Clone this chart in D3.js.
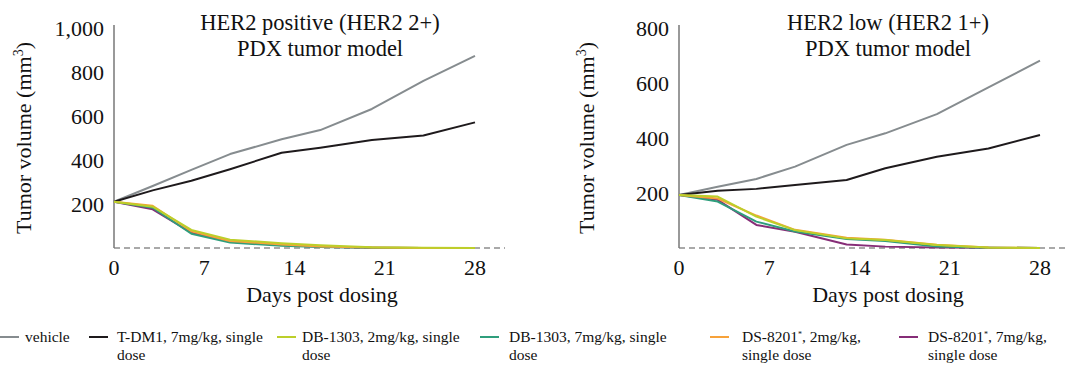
<!DOCTYPE html>
<html>
<head>
<meta charset="utf-8">
<script src="https://cdn.jsdelivr.net/npm/d3@7"></script>
<style>
  body { margin: 0; background: #fff; }
  text { font-family: "Times New Roman", "Liberation Serif", "DejaVu Serif", serif; }
</style>
</head>
<body>
<div id="chart"></div>
<script>
'use strict';
// days of measurement
var days = [0, 3, 6, 9, 13, 16, 20, 24, 28];
var xTicks = [0, 7, 14, 21, 28];

var seriesNames = ["vehicle", "T-DM1, 7mg/kg, single dose", "DB-1303, 2mg/kg, single dose",
                   "DB-1303, 7mg/kg, single dose", "DS-8201*, 2mg/kg, single dose", "DS-8201*, 7mg/kg, single dose"];
var seriesColors = ["#868c8f", "#1e1a1c", "#bccf2a", "#2f9e7c", "#f7a23a", "#862d77"];

// HER2 positive panel
var posVehicle = [210, 282, 355, 427, 494, 536, 632, 760, 873];
var posTdm1    = [210, 262, 306, 358, 433, 456, 491, 511, 571];
var posDb2     = [210, 188, 82, 38, 22, 12, 3, 1, 0];
var posDb7     = [210, 183, 65, 25, 10, 5, 1, 0, 0];
var posDs2     = [210, 192, 76, 32, 16, 7, 2, 0, 0];
var posDs7     = [210, 176, 70, 28, 14, 6, 1, 0, 0];
var posYTicks  = [200, 400, 600, 800, 1000];

// HER2 low panel
var lowVehicle = [193, 223, 251, 296, 375, 417, 487, 584, 681];
var lowTdm1    = [193, 208, 215, 229, 247, 290, 332, 362, 411];
var lowDb2     = [193, 187, 114, 65, 35, 29, 11, 2, 0];
var lowDb7     = [193, 169, 96, 60, 33, 25, 5, 1, 0];
var lowDs2     = [193, 180, 118, 66, 37, 30, 12, 2, 0];
var lowDs7     = [193, 175, 84, 59, 13, 5, 2, 1, 0];
var lowYTicks  = [200, 400, 600, 800];

var FONT = "'Times New Roman', 'Liberation Serif', 'DejaVu Serif', serif";

var svg = d3.select("#chart").append("svg")
    .attr("width", 1066).attr("height", 365)
    .attr("font-family", FONT);

function panel(opt) {
    var x = d3.scaleLinear().domain([0, 28]).range([opt.x0, opt.x1]);
    var y = d3.scaleLinear().domain([0, opt.ymax]).range([248, 28]);
    var g = svg.append("g");

    // baseline (dashed) and y axis line
    g.append("line")
        .attr("x1", x(0)).attr("x2", opt.dashEnd)
        .attr("y1", y(0)).attr("y2", y(0))
        .attr("stroke", "#555").attr("stroke-width", 1.2)
        .attr("stroke-dasharray", "6,4");
    g.append("line")
        .attr("x1", x(0)).attr("x2", x(0))
        .attr("y1", 25).attr("y2", y(0))
        .attr("stroke", "#777").attr("stroke-width", 1.5);

    // y tick labels
    g.selectAll(".yt").data(opt.yTicks).enter().append("text")
        .attr("x", x(0) - 10)
        .attr("y", function(d) { return y(d); })
        .attr("dy", "0.35em")
        .attr("text-anchor", "end")
        .attr("font-family", FONT)
        .attr("font-size", "22px")
        .attr("fill", "#111")
        .text(function(d) { return d3.format(",")(d); });

    // x tick labels
    g.selectAll(".xt").data(xTicks).enter().append("text")
        .attr("x", function(d) { return x(d); })
        .attr("y", 267)
        .attr("dy", "0.35em")
        .attr("text-anchor", "middle")
        .attr("font-family", FONT)
        .attr("font-size", "22px")
        .attr("fill", "#111")
        .text(function(d) { return d; });

    g.append("text")
        .attr("x", opt.xTitleX).attr("y", 294)
        .attr("dy", "0.35em")
        .attr("text-anchor", "middle")
        .attr("font-family", FONT)
        .attr("font-size", "22px")
        .attr("fill", "#111")
        .text("Days post dosing");

    var yt = g.append("text")
        .attr("transform", "translate(" + opt.yTitleX + ",138) rotate(-90)")
        .attr("text-anchor", "middle")
        .attr("dy", "0.35em")
        .attr("font-family", FONT)
        .attr("font-size", "22px")
        .attr("fill", "#111");
    yt.append("tspan").text("Tumor volume (mm");
    yt.append("tspan").attr("font-size", "14px").attr("dy", "-8").text("3");
    yt.append("tspan").attr("dy", "8").text(")");

    opt.title.forEach(function(t, i) {
        g.append("text")
            .attr("x", opt.titleX).attr("y", 22 + i * 26)
            .attr("dy", "0.35em")
            .attr("text-anchor", "middle")
            .attr("font-family", FONT)
            .attr("font-size", "22.5px")
            .attr("fill", "#111")
            .text(t);
    });

    var line = d3.line()
        .x(function(d, i) { return x(days[i]); })
        .y(function(d) { return y(d); });

    // draw order: vehicle, T-DM1, purple, green, orange, yellow
    var order = [0, 1, 5, 3, 4, 2];
    order.forEach(function(k) {
        g.append("path")
            .datum(opt.series[k])
            .attr("d", line)
            .attr("fill", "none")
            .attr("stroke", seriesColors[k])
            .attr("stroke-width", 2)
            .attr("stroke-linejoin", "round");
    });
}

panel({
    x0: 114, x1: 475, ymax: 1000, dashEnd: 505,
    yTicks: posYTicks, xTitleX: 322, yTitleX: 23, titleX: 320,
    title: ["HER2 positive (HER2 2+)", "PDX tumor model"],
    series: [posVehicle, posTdm1, posDb2, posDb7, posDs2, posDs7]
});

panel({
    x0: 679, x1: 1040, ymax: 800, dashEnd: 1066,
    yTicks: lowYTicks, xTitleX: 888, yTitleX: 586, titleX: 888,
    title: ["HER2 low (HER2 1+)", "PDX tumor model"],
    series: [lowVehicle, lowTdm1, lowDb2, lowDb7, lowDs2, lowDs7]
});

// legend
var legendPos = [
    { lx: 0,   tx: 25,  lines: ["vehicle"] },
    { lx: 89,  tx: 117, lines: ["T-DM1, 7mg/kg, single", "dose"] },
    { lx: 277, tx: 302, lines: ["DB-1303, 2mg/kg, single", "dose"] },
    { lx: 480, tx: 509, lines: ["DB-1303, 7mg/kg, single", "dose"] },
    { lx: 710, tx: 742, lines: ["DS-8201*, 2mg/kg,", "single dose"] },
    { lx: 899, tx: 928, lines: ["DS-8201*, 7mg/kg,", "single dose"] }
];

var leg = svg.append("g");
legendPos.forEach(function(p, i) {
    leg.append("line")
        .attr("x1", p.lx).attr("x2", p.lx + 19)
        .attr("y1", 337).attr("y2", 337)
        .attr("stroke", seriesColors[i]).attr("stroke-width", 2);
    p.lines.forEach(function(t, j) {
        var txt = leg.append("text")
            .attr("x", p.tx).attr("y", 337 + j * 18)
            .attr("dy", "0.35em")
            .attr("font-family", FONT)
            .attr("font-size", "15.5px")
            .attr("fill", "#111");
        if (t.indexOf("*") >= 0) {
            var parts = t.split("*");
            txt.append("tspan").text(parts[0]);
            txt.append("tspan").attr("font-size", "8px").attr("dy", "-5").text("*");
            txt.append("tspan").attr("dy", "5").text(parts[1]);
        } else {
            txt.text(t);
        }
    });
});
</script>
</body>
</html>
